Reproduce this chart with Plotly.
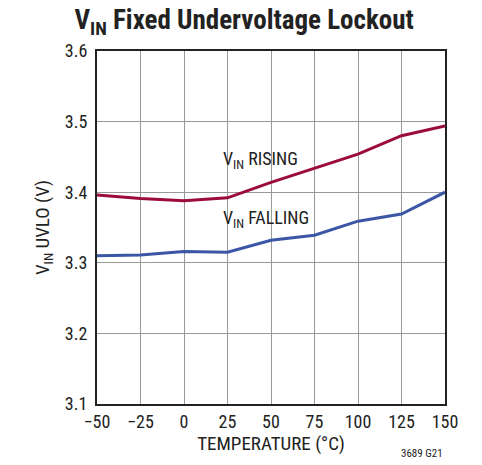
import plotly.graph_objects as go

# temperature (°C) and UVLO thresholds (V)
temperature = [-50, -25, 0, 25, 50, 75, 100, 125, 150]
vin_rising = [3.396, 3.391, 3.388, 3.392, 3.414, 3.434, 3.454, 3.480, 3.494]
vin_falling = [3.310, 3.311, 3.316, 3.315, 3.332, 3.339, 3.359, 3.369, 3.400]

x_ticks = [-50, -25, 0, 25, 50, 75, 100, 125, 150]
x_labels = ['\u221250', '\u221225', '0', '25', '50', '75', '100', '125', '150']
y_ticks = [3.1, 3.2, 3.3, 3.4, 3.5, 3.6]

font_family = 'Liberation Sans Narrow, Arial Narrow, Roboto Condensed, Liberation Sans, sans-serif'

fig = go.Figure()
fig.add_trace(go.Scatter(x=temperature, y=vin_rising, mode='lines',
                         line=dict(color='#9b0c3a', width=3), showlegend=False))
fig.add_trace(go.Scatter(x=temperature, y=vin_falling, mode='lines',
                         line=dict(color='#3a56a5', width=3), showlegend=False))

# curve labels
fig.add_annotation(x=21, y=3.446, xref='x', yref='y', text='V<sub>IN</sub> RISING',
                   showarrow=False, xanchor='left', font=dict(size=18, color='#222'))
fig.add_annotation(x=21, y=3.362, xref='x', yref='y', text='V<sub>IN</sub> FALLING',
                   showarrow=False, xanchor='left', font=dict(size=18, color='#222'))
fig.add_annotation(x=1.0, y=-0.14, xref='paper', yref='paper', text='3689 G21',
                   showarrow=False, xanchor='right', yanchor='middle',
                   font=dict(size=11, color='#222'))

# page body has an 8px margin, so the plot box is shifted up/left by 8
fig.update_layout(
    width=482, height=465,
    margin=dict(l=89, r=45, t=43, b=69),
    paper_bgcolor='white', plot_bgcolor='white',
    font=dict(family=font_family, color='#222', size=18),
    title=dict(text='<b>V<sub>IN</sub> Fixed Undervoltage Lockout</b>',
               x=0.49, xanchor='center', y=1, yanchor='top', pad=dict(t=2),
               font=dict(size=27, color='#222')),
    xaxis=dict(range=[-50, 150], tickvals=x_ticks, ticktext=x_labels,
               showgrid=True, gridcolor='#999999', gridwidth=1,
               showline=True, linecolor='#222', linewidth=2, mirror=True,
               ticks='', zeroline=False,
               title=dict(text='TEMPERATURE (\u00b0C)', standoff=2, font=dict(size=19))),
    yaxis=dict(range=[3.1, 3.6], tickvals=y_ticks, tickformat='.1f',
               showgrid=True, gridcolor='#999999', gridwidth=1,
               showline=True, linecolor='#222', linewidth=2, mirror=True,
               ticks='', zeroline=False, ticklabelstandoff=4,
               title=dict(text='V<sub>IN</sub> UVLO (V)', standoff=10, font=dict(size=19))),
)

fig.write_html('out.html')
